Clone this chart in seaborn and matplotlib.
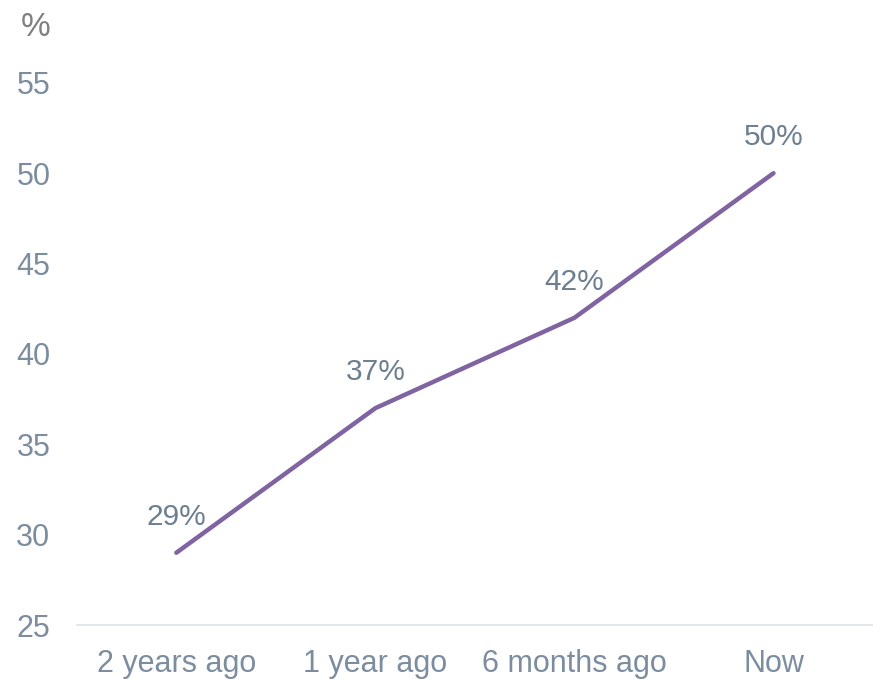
import pandas as pd
import seaborn as sns
import matplotlib.pyplot as plt

periods = ['2 years ago', '1 year ago', '6 months ago', 'Now']
share = [29, 37, 42, 50]
point_labels = ['29%', '37%', '42%', '50%']

df = pd.DataFrame({'Period': periods, 'Share': share})

sns.set_theme(style="white")
plt.rcParams['font.family'] = ['Liberation Sans', 'DejaVu Sans']

tick_col = '#7b8d9e'

fig = plt.figure(figsize=(8.73, 6.79), dpi=100)
ax = fig.add_axes([0.088, 0.0795, 0.912, 0.7985])

sns.lineplot(data=df, x='Period', y='Share', sort=False, color='#8064a2', linewidth=3.2, ax=ax)

# value labels above each point
for i, (v, lab) in enumerate(zip(share, point_labels)):
    ax.annotate(lab, (i, v), xytext=(0, 36), textcoords='offset pixels',
                ha='center', va='center', fontsize=21.5, color='#6b7f90')

ax.set_xlim(-0.5, 3.5)
ax.set_ylim(25, 55)
ax.set_yticks([25, 30, 35, 40, 45, 50, 55])
ax.set_xlabel('')
ax.set_ylabel('')
for s in ['top', 'right', 'left']:
    ax.spines[s].set_visible(False)
ax.spines['bottom'].set_color('#dde3e8')
ax.spines['bottom'].set_linewidth(1.2)
ax.tick_params(axis='y', labelsize=22, colors=tick_col, length=0, pad=19)
ax.tick_params(axis='x', labelsize=22, colors=tick_col, length=0, pad=17)

fig.text(0.041, 0.96, '%', fontsize=24, color='#7f7f7f', ha='center', va='center')

plt.savefig('out.png', dpi=100)
